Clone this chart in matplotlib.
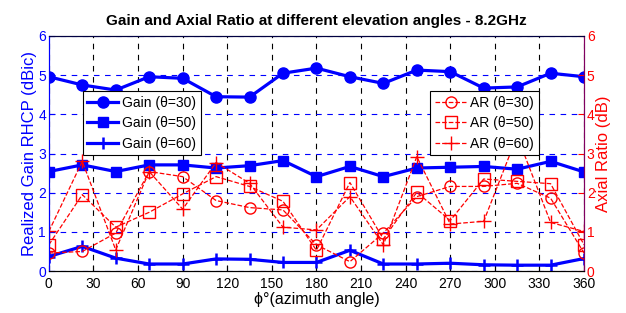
import numpy as np
import matplotlib
matplotlib.use("Agg")
import matplotlib.pyplot as plt

plt.rcParams["font.family"] = ["Liberation Sans", "DejaVu Sans"]

# 方位角 (每 22.5°)
phi = [0, 22.5, 45, 67.5, 90, 112.5, 135, 157.5, 180,
       202.5, 225, 247.5, 270, 292.5, 315, 337.5, 360]

gain_30 = [4.96, 4.75, 4.62, 4.96, 4.92, 4.45, 4.44, 5.05, 5.18,
           4.96, 4.79, 5.13, 5.09, 4.67, 4.70, 5.05, 4.96]
gain_50 = [2.54, 2.71, 2.54, 2.71, 2.71, 2.63, 2.69, 2.82, 2.41,
           2.67, 2.41, 2.63, 2.65, 2.67, 2.60, 2.80, 2.53]
gain_60 = [0.37, 0.63, 0.33, 0.18, 0.18, 0.31, 0.30, 0.22, 0.22,
           0.53, 0.18, 0.18, 0.20, 0.16, 0.15, 0.15, 0.32]

ar_30 = [0.46, 0.50, 0.97, 2.54, 2.41, 1.80, 1.62, 1.56, 0.67,
         0.24, 0.97, 1.90, 2.16, 2.16, 2.24, 1.86, 0.46]
ar_50 = [0.67, 1.95, 1.12, 1.50, 1.97, 2.41, 2.16, 1.78, 0.53,
         2.26, 0.82, 2.01, 1.29, 2.35, 2.29, 2.23, 0.67]
ar_60 = [1.01, 2.80, 0.54, 2.54, 1.58, 2.77, 2.24, 1.12, 1.05,
         1.90, 0.67, 2.92, 1.20, 1.27, 3.45, 1.24, 1.01]

xticks = list(range(0, 361, 30))
yticks = list(range(0, 7))

BLUE = "#0000ff"
RED = "#ff0000"

fig = plt.figure(figsize=(6.26, 3.13), dpi=100)
ax = fig.add_axes([0.078, 0.134, 0.855, 0.751])
ax2 = ax.twinx()

ax.plot(phi, gain_30, "-o", color=BLUE, lw=2.3, ms=8, label="Gain (\u03b8=30)")
ax.plot(phi, gain_50, "-s", color=BLUE, lw=2.3, ms=7, label="Gain (\u03b8=50)")
ax.plot(phi, gain_60, "-+", color=BLUE, lw=2.3, ms=8, mew=1.8, label="Gain (\u03b8=60)")

ax2.plot(phi, ar_30, "--o", color=RED, lw=0.9, ms=8, mfc="none", mew=1.0, label="AR (\u03b8=30)")
ax2.plot(phi, ar_50, "--s", color=RED, lw=0.9, ms=8, mfc="none", mew=1.0, label="AR (\u03b8=50)")
ax2.plot(phi, ar_60, "--+", color=RED, lw=0.9, ms=10, mew=1.0, label="AR (\u03b8=60)")

for a in (ax, ax2):
    a.set_xlim(0, 360)
    a.set_ylim(0, 6)
    a.set_yticks(yticks)
    a.tick_params(direction="in", length=4, labelsize=10)
ax.set_xticks(xticks)
ax.tick_params(axis="y", colors=BLUE, pad=2)
ax2.tick_params(axis="y", colors=RED, pad=2)
ax.tick_params(axis="x", colors="black", pad=4)

ax.xaxis.grid(True, color="black", ls=(0, (5, 5)), lw=0.8)
ax.yaxis.grid(True, color=BLUE, ls=(0, (5, 5)), lw=0.8)
ax.set_axisbelow(True)

ax.spines["left"].set_color(BLUE)
ax2.spines["left"].set_color(BLUE)
ax2.spines["right"].set_color("#800060")
ax.spines["right"].set_color("#800060")
ax2.spines["top"].set_color("#000040")

ax.set_ylabel("Realized Gain RHCP (dBic)", color=BLUE, fontsize=12, labelpad=1)
ax2.set_ylabel("Axial Ratio (dB)", color=RED, fontsize=12, labelpad=1)
ax.set_xlabel("\u03d5\u00b0(azimuth angle)", fontsize=11.5, labelpad=1)
ax.set_title("Gain and Axial Ratio at different elevation angles - 8.2GHz",
             fontsize=11, fontweight="bold", pad=8)

leg_kw = dict(loc="upper left", fontsize=10, fancybox=False, edgecolor="black",
              framealpha=1, borderpad=0.35, labelspacing=0.45,
              handlelength=2.2, handletextpad=0.3, borderaxespad=0)
leg1 = ax.legend(bbox_to_anchor=(0.063, 0.765), **leg_kw)
leg1.get_frame().set_linewidth(0.8)
leg2 = ax2.legend(bbox_to_anchor=(0.713, 0.765), **leg_kw)
leg2.get_frame().set_linewidth(0.8)
leg2.set_zorder(10)

fig.savefig("out.png", dpi=100)
